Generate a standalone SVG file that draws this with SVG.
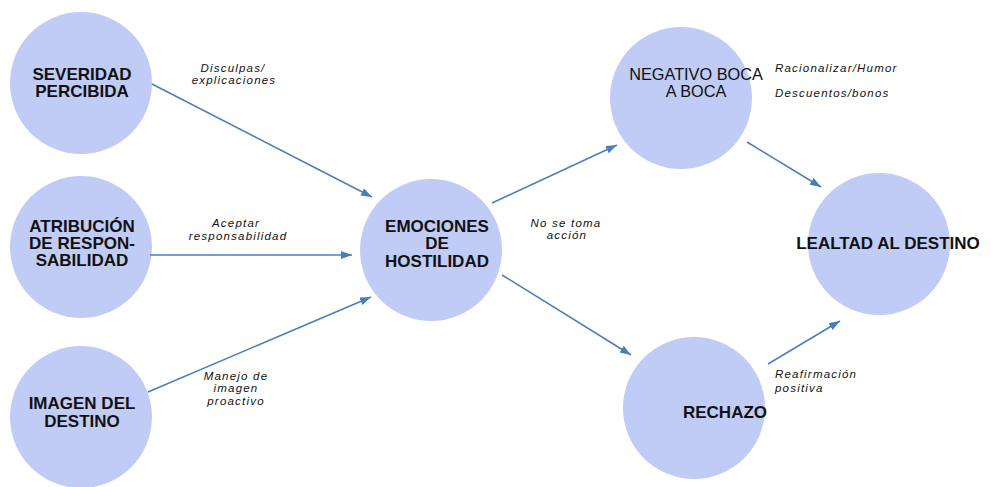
<svg xmlns="http://www.w3.org/2000/svg" width="991" height="487" viewBox="0 0 991 487">
  <style>
    .node circle { fill: #C0CCF5; }
    .nl { font-family: "Liberation Sans", Arial, sans-serif; font-size: 17px; font-weight: bold; fill: #111; text-anchor: middle; }
    .nr { font-family: "Liberation Sans", Arial, sans-serif; font-size: 16.3px; fill: #111; text-anchor: middle; }
    .el { font-family: "Liberation Sans", Arial, sans-serif; font-size: 11.5px; font-style: italic; fill: #111; letter-spacing: 1.2px; }
    .em { text-anchor: middle; }
    .conn line { stroke: #4A7EBB; stroke-width: 1.5; marker-end: url(#arr); }
  </style>
  <defs>
    <marker id="arr" markerUnits="userSpaceOnUse" markerWidth="12" markerHeight="10" refX="11" refY="4" orient="auto">
      <path d="M0,0 L11,4 L0,8 Z" fill="#4A7EBB"/>
    </marker>
  </defs>
  <rect width="991" height="487" fill="#ffffff"/>

  <!-- nodes -->
  <g id="severidad" class="node">
    <circle cx="81" cy="83" r="71"/>
    <text class="nl" x="82" y="80">SEVERIDAD</text>
    <text class="nl" x="82" y="97">PERCIBIDA</text>
  </g>
  <g id="atribucion" class="node">
    <circle cx="81" cy="247" r="71"/>
    <text class="nl" x="82" y="232">ATRIBUCIÓN</text>
    <text class="nl" x="82" y="249">DE RESPON-</text>
    <text class="nl" x="82" y="266">SABILIDAD</text>
  </g>
  <g id="imagen" class="node">
    <circle cx="81" cy="417" r="71"/>
    <text class="nl" x="82" y="409">IMAGEN DEL</text>
    <text class="nl" x="82" y="427">DESTINO</text>
  </g>
  <g id="emociones" class="node">
    <circle cx="431" cy="250" r="71"/>
    <text class="nl" x="437" y="232">EMOCIONES</text>
    <text class="nl" x="437" y="249">DE</text>
    <text class="nl" x="437" y="267">HOSTILIDAD</text>
  </g>
  <g id="negativo" class="node">
    <circle cx="681" cy="98" r="71"/>
    <text class="nr" x="696" y="80">NEGATIVO BOCA</text>
    <text class="nr" x="696" y="97">A BOCA</text>
  </g>
  <g id="rechazo" class="node">
    <circle cx="694" cy="408" r="71"/>
    <text class="nl" x="725" y="418">RECHAZO</text>
  </g>
  <g id="lealtad" class="node">
    <circle cx="879" cy="244" r="71"/>
    <text class="nl" x="888" y="249">LEALTAD AL DESTINO</text>
  </g>

  <!-- connectors -->
  <g id="connectors" class="conn">
    <line x1="152" y1="84" x2="372" y2="197"/>
    <line x1="150" y1="255" x2="352" y2="255"/>
    <line x1="148" y1="392" x2="371" y2="297"/>
    <line x1="492" y1="203" x2="617" y2="145"/>
    <line x1="502" y1="275" x2="631" y2="355"/>
    <line x1="747" y1="142" x2="821" y2="187"/>
    <line x1="768" y1="364" x2="840" y2="321"/>
  </g>

  <!-- connector labels -->
  <g id="labels">
    <text class="el em" x="233" y="72">Disculpas/</text>
    <text class="el em" x="234" y="84">explicaciones</text>
    <text class="el em" x="236" y="227">Aceptar</text>
    <text class="el em" x="238" y="240">responsabilidad</text>
    <text class="el em" x="236" y="380">Manejo de</text>
    <text class="el em" x="236" y="392">imagen</text>
    <text class="el em" x="236" y="405">proactivo</text>
    <text class="el em" x="566" y="227">No se toma</text>
    <text class="el em" x="567" y="239">acción</text>
    <text class="el" x="775" y="72">Racionalizar/Humor</text>
    <text class="el" x="775" y="97">Descuentos/bonos</text>
    <text class="el" x="775" y="378">Reafirmación</text>
    <text class="el" x="775" y="392">positiva</text>
  </g>
</svg>
